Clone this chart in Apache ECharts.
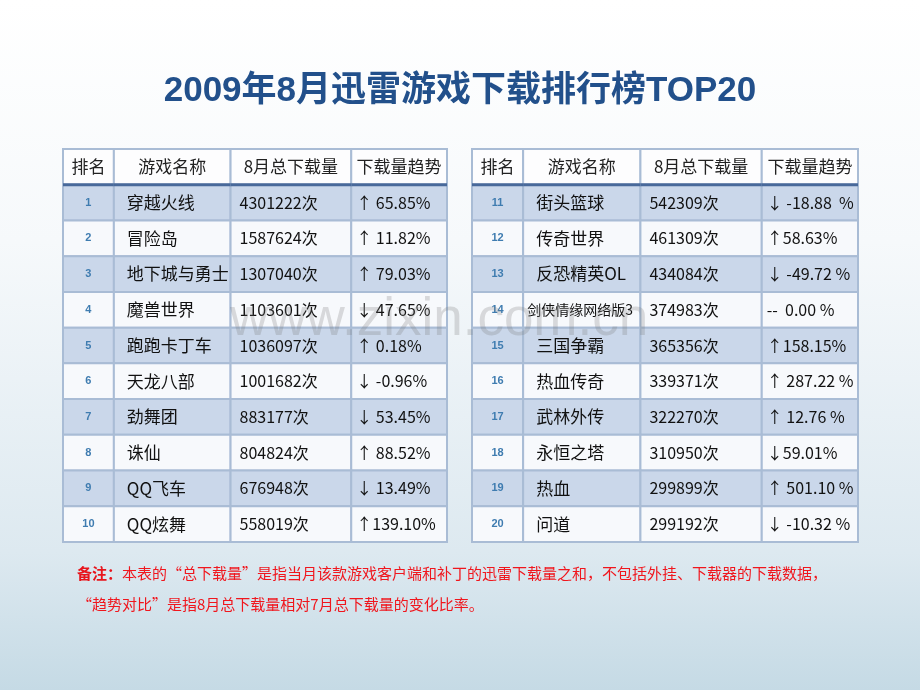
<!DOCTYPE html>
<html>
<head>
<meta charset="utf-8">
<script src="https://cdn.jsdelivr.net/npm/echarts@6/dist/echarts.min.js"></script>
<style>
  html, body { margin: 0; padding: 0; }
  #chart { width: 920px; height: 690px; }
</style>
</head>
<body>
<div id="chart"></div>
<script>
// table data
const headers = ['排名', '游戏名称', '8月总下载量', '下载量趋势'];

const ranksLeft = [1, 2, 3, 4, 5, 6, 7, 8, 9, 10];
const gamesLeft = ['穿越火线', '冒险岛', '地下城与勇士', '魔兽世界', '跑跑卡丁车', '天龙八部', '劲舞团', '诛仙', 'QQ飞车', 'QQ炫舞'];
const downloadsLeft = [4301222, 1587624, 1307040, 1103601, 1036097, 1001682, 883177, 804824, 676948, 558019];
const trendsLeft = ['↑ 65.85%', '↑ 11.82%', '↑ 79.03%', '↓ 47.65%', '↑ 0.18%', '↓ -0.96%', '↓ 53.45%', '↑ 88.52%', '↓ 13.49%', '↑139.10%'];

const ranksRight = [11, 12, 13, 14, 15, 16, 17, 18, 19, 20];
const gamesRight = ['街头篮球', '传奇世界', '反恐精英OL', '剑侠情缘网络版3', '三国争霸', '热血传奇', '武林外传', '永恒之塔', '热血', '问道'];
const downloadsRight = [542309, 461309, 434084, 374983, 365356, 339371, 322270, 310950, 299899, 299192];
const trendsRight = ['↓ -18.88  %', '↑58.63%', '↓ -49.72 %', '--  0.00 %', '↑158.15%', '↑ 287.22 %', '↑ 12.76 %', '↓59.01%', '↑ 501.10 %', '↓ -10.32 %'];

const rowNames = ['head', 'r1', 'r2', 'r3', 'r4', 'r5', 'r6', 'r7', 'r8', 'r9', 'r10'];

// layout: column edges along the x value axis
const colEdges = [0, 51, 168, 289, 385];
const textPad = [0, 13, 9, 5];
const colFont = [11, 17, 16, 16];
const FONT = '"Noto Sans CJK SC", "Liberation Sans", sans-serif';

function buildCells(ranks, games, downloads, trends) {
  let cells = [];
  for (let i = 0; i < ranks.length; i++) {
    const r = i + 1;
    cells.push({ value: [0, r], text: String(ranks[i]) });
    cells.push({ value: [1, r], text: games[i] });
    cells.push({ value: [2, r], text: downloads[i] + '次' });
    cells.push({ value: [3, r], text: trends[i] });
  }
  // header last so its thick line sits on top
  for (let c = 0; c < headers.length; c++) {
    cells.push({ value: [c, 0], text: headers[c] });
  }
  return cells;
}

function renderCell(cells) {
  return function (params, api) {
    const cell = cells[params.dataIndex];
    const col = api.value(0);
    const row = api.value(1);
    const x0 = api.coord([colEdges[col], row])[0];
    const x1 = api.coord([colEdges[col + 1], row])[0];
    const yc = api.coord([0, row])[1];
    const h = api.size([0, 1])[1];
    const y0 = yc - h / 2;

    let fill = '#f7f9fc';
    if (row === 0) fill = '#fdfdfe';
    else if (row % 2 === 1) fill = '#cad7ea';

    const children = [{
      type: 'rect',
      shape: { x: x0, y: y0, width: x1 - x0, height: h },
      style: { fill: fill, stroke: '#a9bcd5', lineWidth: 2 }
    }];

    let txt = {
      type: 'text',
      z2: 5,
      style: {
        text: cell.text,
        y: yc,
        verticalAlign: 'middle',
        fill: '#111',
        fontSize: colFont[col],
        fontFamily: FONT
      }
    };
    if (row === 0) {
      txt.style.x = (x0 + x1) / 2;
      txt.style.align = 'center';
      txt.style.fontSize = 17;
      txt.style.fill = '#222';
    } else if (col === 0) {
      txt.style.x = (x0 + x1) / 2;
      txt.style.align = 'center';
      txt.style.fontWeight = 'bold';
      txt.style.fill = '#3f7cb0';
      txt.style.fontFamily = '"Liberation Sans", sans-serif';
    } else {
      txt.style.x = x0 + textPad[col];
      txt.style.align = 'left';
      if (col === 1 && cell.text.length > 6) {
        txt.style.fontSize = 14;
        txt.style.x = x0 + 4;
      }
    }
    children.push(txt);

    if (row === 0) {
      children.push({
        type: 'line',
        z2: 10,
        shape: { x1: x0, y1: y0 + h, x2: x1, y2: y0 + h },
        style: { stroke: '#48699a', lineWidth: 3 }
      });
    }
    return { type: 'group', children: children };
  };
}

const cellsLeft = buildCells(ranksLeft, gamesLeft, downloadsLeft, trendsLeft);
const cellsRight = buildCells(ranksRight, gamesRight, downloadsRight, trendsRight);

const chart = echarts.init(document.getElementById('chart'));

const hiddenX = (i) => ({ type: 'value', gridIndex: i, min: colEdges[0], max: colEdges[colEdges.length - 1], show: false });
const hiddenY = (i) => ({ type: 'category', gridIndex: i, data: rowNames, inverse: true, show: false });

chart.setOption({
  backgroundColor: {
    type: 'linear', x: 0, y: 0, x2: 0, y2: 1,
    colorStops: [
      { offset: 0, color: '#ffffff' },
      { offset: 0.35, color: '#f6f9fb' },
      { offset: 0.8, color: '#dde9f0' },
      { offset: 1, color: '#c5dae5' }
    ]
  },
  title: [{
    text: '2009年8月迅雷游戏下载排行榜TOP20',
    left: 'center',
    top: 69,
    textStyle: { fontSize: 35, fontWeight: 'bold', color: '#22508b', fontFamily: '"Liberation Sans", "Noto Sans CJK SC", sans-serif' }
  }, {
    text: '{b|备注：}{r|本表的“总下载量”是指当月该款游戏客户端和补丁的迅雷下载量之和，不包括外挂、下载器的下载数据，}',
    left: 72,
    top: 561,
    textStyle: {
      rich: {
        b: { fontSize: 15, fontWeight: 'bold', color: '#e8141b', fontFamily: FONT },
        r: { fontSize: 15, fontWeight: 'normal', color: '#f0161d', fontFamily: FONT }
      }
    }
  }, {
    text: '“趋势对比”是指8月总下载量相对7月总下载量的变化比率。',
    left: 72,
    top: 592,
    textStyle: { fontSize: 15, fontWeight: 'normal', color: '#f0161d', fontFamily: FONT }
  }],
  graphic: [{
    type: 'text',
    left: 230,
    top: 294,
    z: 100,
    style: {
      text: 'www.zixin.com.cn',
      fontSize: 53,
      fontFamily: '"Liberation Sans", sans-serif',
      fill: 'rgba(120,120,120,0.25)'
    }
  }],
  grid: [
    { left: 63, top: 149, width: 384, height: 393 },
    { left: 472, top: 149, width: 386, height: 393 }
  ],
  xAxis: [hiddenX(0), hiddenX(1)],
  yAxis: [hiddenY(0), hiddenY(1)],
  series: [{
    type: 'custom',
    xAxisIndex: 0,
    yAxisIndex: 0,
    clip: false,
    renderItem: renderCell(cellsLeft),
    data: cellsLeft.map(c => c.value)
  }, {
    type: 'custom',
    xAxisIndex: 1,
    yAxisIndex: 1,
    clip: false,
    renderItem: renderCell(cellsRight),
    data: cellsRight.map(c => c.value)
  }]
});
</script>
</body>
</html>
